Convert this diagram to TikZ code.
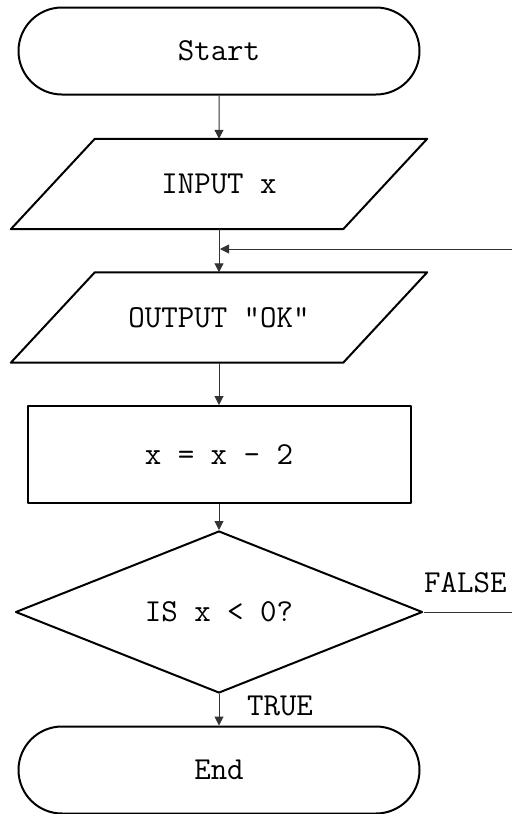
\documentclass[tikz,border=0pt]{standalone}
\usepackage{fontspec}
\usetikzlibrary{shapes.geometric,shapes.misc,arrows.meta}
\begin{document}
\begin{tikzpicture}[x=1pt,y=-1pt,
  every node/.style={font=\ttfamily\fontsize{32}{36}\selectfont},
  shapeline/.style={draw=black, line width=2pt, line join=round},
  term/.style={rounded rectangle, shapeline, minimum width=401pt, minimum height=87pt, inner sep=0pt},
  io/.style={rectangle, minimum width=416pt, minimum height=90pt, inner sep=0pt},
  proc/.style={rectangle, shapeline, minimum width=383pt, minimum height=97pt, inner sep=0pt},
  decision/.style={diamond, aspect=2.5, shapeline, minimum width=407pt, minimum height=162pt, inner sep=0pt},
  conn/.style={line width=1pt, draw=black!80},
  arr/.style={conn, -{Triangle[length=9pt,width=9pt]}},
  lbl/.style={inner sep=0pt}
]
\useasboundingbox (0,0) rectangle (512,814);

\node[term] (start) at (219,51) {Start};
\node[io] (in) at (219,184) {INPUT x};
\draw[shapeline] ([xshift=84pt]in.north west) -- (in.north east) -- ([xshift=-84pt]in.south east) -- (in.south west) -- cycle;
\node[io] (out) at (219,317.5) {OUTPUT "OK"};
\draw[shapeline] ([xshift=84pt]out.north west) -- (out.north east) -- ([xshift=-84pt]out.south east) -- (out.south west) -- cycle;
\node[proc] (calc) at (219,454.5) {x = x - 2};
\node[decision] (dec) at (219,612) {IS x < 0?};
\node[term] (end) at (219,770) {End};

\coordinate (join) at (220,249);
\coordinate (loopR) at (512,249);
\coordinate (falseR) at (512,612);

\draw[arr] (start) -- (in);
\draw[arr] (in) -- (out);
\draw[arr] (loopR) -- (join);
\draw[arr] (out) -- (calc);
\draw[arr] (calc) -- (dec);
\draw[arr] (dec) -- (end);
\draw[conn] (dec.east) -- (falseR);

\node[lbl, anchor=west] (flbl) at (424,583) {FALSE};
\node[lbl] (tlbl) at (280,706) {TRUE};
\end{tikzpicture}
\end{document}
